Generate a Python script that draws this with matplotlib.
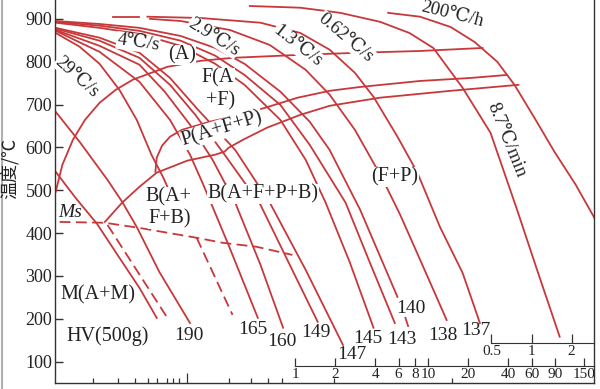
import numpy as np
import matplotlib.pyplot as plt

# x = lg(t / s), y = temperature in degC

# cooling curves (fast ones enter from the left edge)
c_fast = [(-1.80, 543), (-1.65, 482), (-1.49, 422), (-1.32, 342), (-1.17, 272), (-1.04, 202)]
c_190 = [(-1.80, 683), (-1.62, 613), (-1.41, 524), (-1.30, 473), (-1.19, 414), (-1.02, 309), (-0.79, 190)]
c_29 = [(-1.80, 867), (-1.62, 835), (-1.47, 795), (-1.32, 734), (-1.19, 664), (-1.08, 583), (-0.99, 529), (-0.96, 508)]
c_165 = [(-1.80, 872), (-1.47, 823), (-1.17, 753), (-0.94, 664), (-0.79, 583), (-0.69, 513), (-0.50, 372), (-0.28, 202)]
c_160 = [(-1.80, 874), (-1.47, 837), (-1.17, 793), (-0.98, 730), (-0.79, 653), (-0.62, 571), (-0.45, 471), (-0.26, 326), (-0.09, 179)]
c_149 = [(-1.80, 877), (-1.47, 849), (-1.17, 809), (-0.94, 746), (-0.75, 676), (-0.53, 583), (-0.26, 466), (-0.04, 326), (0.17, 193)]
c_147 = [(-1.80, 879), (-1.47, 856), (-1.17, 821), (-0.94, 762), (-0.73, 688), (-0.45, 594), (-0.19, 471), (0.08, 314), (0.36, 139)]
c_145 = [(-1.80, 891), (-1.47, 879), (-1.17, 865), (-0.86, 837), (-0.60, 795), (-0.38, 746), (-0.11, 664), (0.08, 571), (0.23, 471), (0.41, 333), (0.59, 179)]
c_143 = [(-1.80, 893), (-1.47, 884), (-1.17, 872), (-0.86, 849), (-0.60, 814), (-0.38, 769), (-0.11, 699), (0.11, 606), (0.38, 471), (0.56, 333), (0.75, 190)]
c_140 = [(-1.80, 895), (-1.47, 888), (-1.17, 879), (-0.86, 860), (-0.60, 832), (-0.38, 795), (-0.11, 730), (0.11, 660), (0.26, 594), (0.49, 454), (0.77, 251)]
c_140_tail = [(0.83, 202), (0.85, 183)]
c_138 = [(-1.09, 900), (-0.86, 895), (-0.49, 874), (-0.19, 839), (0.08, 781), (0.26, 723), (0.45, 641), (0.59, 564), (0.69, 506), (0.79, 443), (0.94, 338), (1.14, 197)]
c_137 = [(-1.11, 905), (-0.71, 902), (-0.26, 891), (0.04, 867), (0.26, 828), (0.45, 774), (0.59, 718), (0.77, 625), (0.92, 541), (1.09, 414), (1.26, 307), (1.39, 190)]
c_87min = [(-0.34, 930), (0.04, 926), (0.34, 914), (0.64, 893), (0.86, 867), (1.04, 832), (1.26, 739), (1.47, 634), (1.67, 454), (1.82, 314), (1.99, 158)]
c_200h = [(0.70, 914), (0.94, 905), (1.17, 881), (1.35, 846), (1.52, 800), (1.65, 746), (1.80, 669), (1.95, 590), (2.11, 513), (2.25, 436)]
top_stub = [(-1.37, 905), (-1.17, 905)]

# transformation lines
f_start = [(-1.80, 496), (-1.75, 559), (-1.67, 618), (-1.58, 664), (-1.47, 704), (-1.35, 734), (-1.22, 758),
           (-0.96, 788), (-0.71, 802), (-0.47, 809), (0.04, 816), (0.49, 821), (0.94, 825), (1.41, 832)]
p_start = [(-1.05, 543), (-1.04, 576), (-1.00, 604), (-0.94, 625), (-0.85, 641), (-0.64, 660), (-0.41, 676),
           (-0.23, 692), (0.02, 716), (0.26, 732), (0.49, 741), (0.94, 755), (1.32, 762), (1.59, 769)]
b_start = [(-1.43, 426), (-1.30, 471), (-1.17, 508), (-1.04, 541), (-0.81, 569), (-0.60, 583), (-0.53, 590),
           (-0.50, 599), (-0.39, 618), (-0.21, 646), (0.04, 676), (0.26, 697), (0.64, 716), (1.17, 732), (1.68, 746)]
ms_line = [(-1.77, 426), (-1.43, 424), (-1.17, 412), (-0.74, 389), (-0.54, 377), (-0.29, 368), (-0.02, 349)]
dash_a = [(-1.41, 419), (-0.96, 202)]
dash_b = [(-0.74, 389), (-0.47, 209)]

# hardness values at the curve ends
end_labels = [('190', -0.80, 160), ('165', -0.32, 174), ('160', -0.10, 148), ('149', 0.16, 167),
              ('147', 0.43, 116), ('145', 0.55, 155), ('143', 0.80, 151), ('140', 0.87, 225),
              ('138', 1.11, 160), ('137', 1.36, 172)]

# cooling rate labels: text, x, y, rotation
rate_labels = [('29℃/s', -1.64, 765, -42), ('4℃/s', -1.18, 844, -8), ('2.9℃/s', -0.61, 858, -32),
               ('1.3℃/s', 0.02, 837, -38), ('0.62℃/s', 0.38, 856, -40), ('8.7℃/min', 1.59, 617, -68)]
label_200h = ('200℃/h', 1.18, 910, -14)

# phase region labels
region_labels = [('(A)', -0.85, 816, 0), ('F(A', -0.58, 762, 0), ('+F)', -0.56, 709, 0),
                 ('P(A+F+P)', -0.55, 643, 17), ('B(A+', -0.95, 485, 0), ('F+B)', -0.94, 433, 0),
                 ('B(A+F+P+B)', -0.24, 491, 0), ('(F+P)', 0.75, 531, 0),
                 ('M(A+M)', -1.48, 256, 0), ('HV(500g)', -1.41, 160, 0)]

temp_ticks = [100, 200, 300, 400, 500, 600, 700, 800, 900]
base_minor = [-1.52, -1.33, -1.20, -1.105, -1.04, -0.96, -0.92, -0.87, -0.50, -0.33, -0.20, -0.10, 0.29, 1.18]
base_major = [-0.81]
sec_vals = [1, 2, 4, 6, 8, 10, 20, 40, 60, 90, 150]
min_vals = [30, 60, 120]
min_labels = ['0.5', '1', '2']

RED = '#c8383a'
INK = '#222222'
SERIF = ['Liberation Serif', 'DejaVu Serif', 'Noto Sans CJK SC']
plt.rcParams['font.family'] = SERIF

fig = plt.figure(figsize=(6.0, 3.89), dpi=100)
ax = fig.add_axes([55 / 600, 6 / 389, 539 / 600, 383 / 389])
ax.set_xlim(-1.805, 2.248)
ax.set_ylim(50, 944)


def draw(pts, **kw):
    x, y = zip(*pts)
    ax.plot(x, y, color=RED, lw=1.3, **kw)


for c in [c_fast, c_190, c_29, c_165, c_160, c_149, c_147, c_145, c_143, c_140, c_140_tail,
          c_138, c_137, c_87min, c_200h, top_stub, f_start, p_start, b_start]:
    draw(c)
for c in [ms_line, dash_a, dash_b]:
    draw(c, dashes=(6, 3))

white = dict(facecolor='white', edgecolor='none', pad=0.3)
for txt, x, y in end_labels:
    ax.text(x, y, txt, fontsize=14, color=INK, ha='center', va='center')
for txt, x, y, r in rate_labels:
    ax.text(x, y, txt, fontsize=13.5, color=INK, ha='center', va='center', rotation=r,
            rotation_mode='anchor', bbox=white)
txt, x, y, r = label_200h
ax.text(x, y, txt, fontsize=13.5, color=INK, ha='center', va='center', rotation=r,
        rotation_mode='anchor')
for txt, x, y, r in region_labels:
    ax.text(x, y, txt, fontsize=14.5, color=INK, ha='center', va='center', rotation=r,
            rotation_mode='anchor', bbox=white)
ax.text(-1.69, 447, 'Ms', fontsize=14, color=INK, style='italic', ha='center', va='center')

# axes styling
for s in ['left', 'bottom', 'right']:
    ax.spines[s].set_color('#333333')
    ax.spines[s].set_linewidth(1.0)
ax.spines['top'].set_visible(False)

ax.set_yticks(temp_ticks)
ax.tick_params(axis='y', direction='in', length=6, width=1.0, labelsize=13, pad=2,
               colors='#333333', labelcolor=INK, right=False)
ax.set_xticks(base_major)
ax.set_xticks(base_minor, minor=True)
ax.set_xticklabels([])
ax.tick_params(axis='x', which='major', direction='in', length=7, width=0.9, colors='#333333')
ax.tick_params(axis='x', which='minor', direction='in', length=3.6, width=0.9, colors='#333333')

sec = ax.secondary_xaxis(location=(383 - 366) / 383)
sec.set_xticks(np.log10(sec_vals), [str(v) for v in sec_vals])
sec.spines['bottom'].set_bounds(0, 2.248)
sec.spines['bottom'].set_color('#333333')
sec.tick_params(direction='in', length=5.5, width=0.9, labelsize=11, pad=1.5,
                colors='#333333', labelcolor=INK)

mins = ax.secondary_xaxis(location=(383 - 343) / 383)
mins.set_xticks(np.log10(min_vals), min_labels)
mins.spines['bottom'].set_bounds(np.log10(30), 2.248)
mins.spines['bottom'].set_color('#333333')
mins.tick_params(direction='in', length=6.5, width=0.9, labelsize=11, pad=1.5,
                 colors='#333333', labelcolor=INK)

fig.text(10 / 600, 1 - 168 / 389, '温度/℃', rotation=90, fontsize=13, color=INK,
         ha='center', va='center', family=['Noto Sans CJK SC', 'DejaVu Sans'])

# thin grey frame line on the far left, as in the source image
fig.add_artist(plt.Line2D([0.003, 0.003], [0, 1], color='#b0b0b0', lw=1.5))

fig.savefig('out.png', dpi=100)
